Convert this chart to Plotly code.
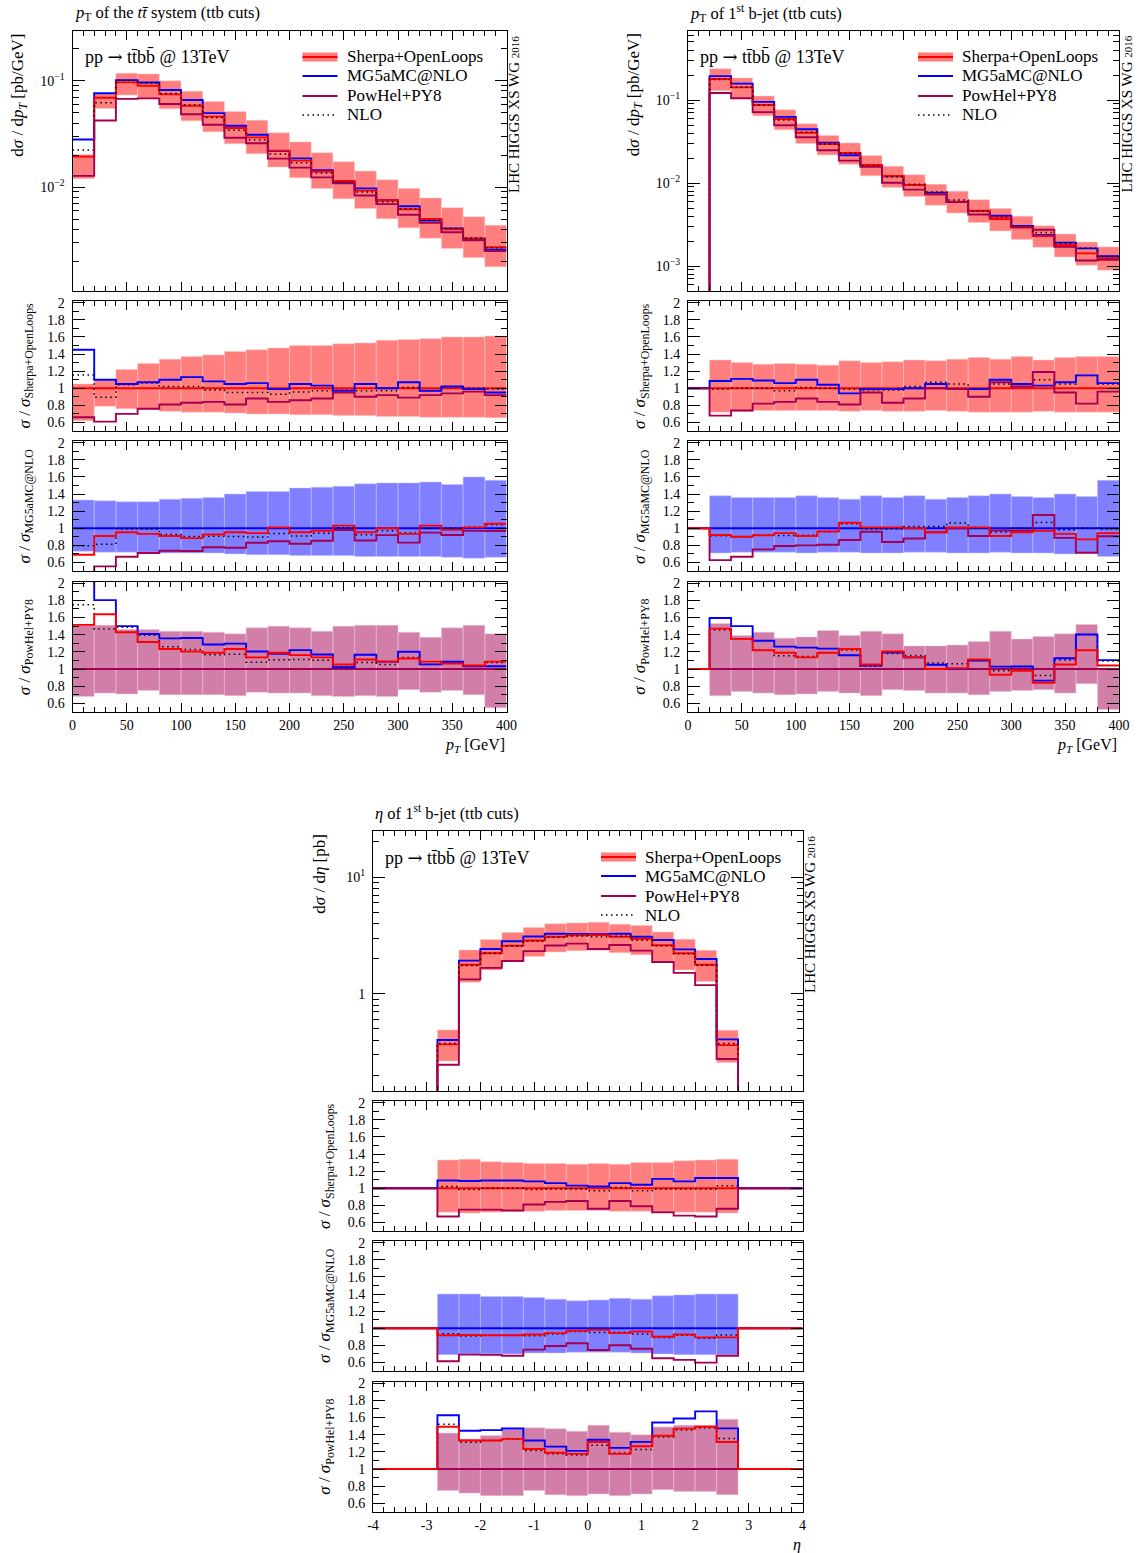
import plotly.graph_objects as go

W, H = 1141, 1553
FONT = "Liberation Serif"

C_SH = "#FF0000"
C_MG = "#0000FF"
C_PW = "#A30051"
B_SH = "rgba(255,0,0,0.5)"
B_MG = "rgba(0,0,255,0.5)"
B_PW = "rgba(163,0,81,0.5)"
DOT = "1.5px,3.5px"

# ---------------- data: pT of the ttbar system ----------------
tt_edges = [0, 20, 40, 60, 80, 100, 120, 140, 160, 180, 200, 220, 240, 260, 280, 300, 320, 340, 360, 380, 400]
tt_sherpa = [0.0193, 0.0692, 0.0964, 0.0897, 0.0744, 0.0582, 0.0459, 0.0359, 0.0293, 0.0220,
             0.0177, 0.0140, 0.01138, 0.00924, 0.0075, 0.00617, 0.0050, 0.0040, 0.00329, 0.00271]
tt_mg_over_sh = [1.45, 1.10, 1.05, 1.07, 1.10, 1.13, 1.08, 1.05, 1.06, 0.99,
                 1.05, 1.03, 0.97, 1.05, 1.00, 1.07, 0.97, 1.02, 0.99, 0.95]
tt_pw_over_sh = [0.66, 0.61, 0.70, 0.76, 0.81, 0.83, 0.84, 0.81, 0.88, 0.84,
                 0.86, 0.88, 0.95, 0.90, 0.92, 0.89, 0.92, 0.94, 0.96, 0.92]
tt_nlo_over_sh = [1.155, 0.895, 1.04, 1.06, 1.02, 1.02, 0.98, 0.95, 0.95, 0.93,
                  0.955, 0.97, 0.975, 0.97, 0.97, 1.01, 0.97, 1.02, 1.00, 0.99]
tt_sh_up = [1.05, 1.09, 1.22, 1.29, 1.34, 1.37, 1.39, 1.43, 1.45, 1.47,
            1.50, 1.50, 1.52, 1.53, 1.56, 1.57, 1.58, 1.60, 1.60, 1.61]
tt_sh_dn = [0.62, 0.79, 0.76, 0.75, 0.73, 0.72, 0.72, 0.71, 0.70, 0.70,
            0.69, 0.69, 0.68, 0.68, 0.67, 0.67, 0.66, 0.66, 0.66, 0.655]
tt_mg_up = [1.33, 1.32, 1.31, 1.31, 1.34, 1.35, 1.36, 1.40, 1.43, 1.43,
            1.47, 1.48, 1.49, 1.52, 1.53, 1.53, 1.54, 1.51, 1.60, 1.56]
tt_mg_dn = [0.73, 0.72, 0.72, 0.72, 0.71, 0.71, 0.71, 0.70, 0.69, 0.69,
            0.68, 0.68, 0.68, 0.67, 0.67, 0.67, 0.67, 0.66, 0.65, 0.66]
tt_pw_up = [1.51, 1.51, 1.46, 1.46, 1.44, 1.44, 1.43, 1.41, 1.48, 1.50,
            1.48, 1.44, 1.50, 1.51, 1.51, 1.43, 1.37, 1.48, 1.51, 1.41]
tt_pw_dn = [0.68, 0.72, 0.71, 0.75, 0.70, 0.70, 0.70, 0.69, 0.73, 0.72,
            0.72, 0.69, 0.68, 0.69, 0.68, 0.76, 0.73, 0.75, 0.70, 0.55]

# ---------------- data: pT of 1st b-jet ----------------
bj_edges = [0, 20, 40, 60, 80, 100, 120, 140, 160, 180, 200, 220, 240, 260, 280, 300, 320, 340, 360, 380, 400]
bj_sherpa = [0.0, 0.179, 0.142, 0.0871, 0.0591, 0.0404, 0.0295, 0.0230, 0.0165, 0.01214,
             0.00946, 0.0073, 0.00596, 0.00464, 0.00368, 0.0029, 0.0023, 0.00179, 0.00142, 0.00124]
bj_mg_over_sh = [None, 1.085, 1.11, 1.09, 1.06, 1.10, 1.04, 0.94, 0.99, 0.99,
                 1.00, 1.05, 0.99, 0.99, 1.10, 1.05, 1.03, 1.07, 1.15, 1.06]
bj_pw_over_sh = [None, 0.68, 0.74, 0.82, 0.84, 0.88, 0.84, 0.81, 0.95, 0.83,
                 0.88, 1.00, 0.99, 0.90, 1.07, 1.02, 1.19, 0.95, 0.82, 0.96]
bj_nlo_over_sh = [None, 0.99, 1.00, 1.00, 0.97, 1.01, 1.00, 0.99, 0.98, 0.98,
                  1.02, 1.07, 1.05, 0.99, 1.05, 1.05, 1.10, 1.05, 1.15, 1.05]
bj_sh_up = [None, 1.33, 1.30, 1.28, 1.29, 1.28, 1.27, 1.32, 1.30, 1.31,
            1.33, 1.32, 1.34, 1.36, 1.34, 1.37, 1.33, 1.36, 1.37, 1.37]
bj_sh_dn = [None, 0.72, 0.73, 0.74, 0.74, 0.74, 0.74, 0.73, 0.74, 0.73,
            0.73, 0.74, 0.73, 0.72, 0.72, 0.72, 0.73, 0.72, 0.72, 0.72]
bj_mg_up = [None, 1.38, 1.36, 1.36, 1.36, 1.38, 1.36, 1.34, 1.38, 1.36,
            1.38, 1.34, 1.36, 1.38, 1.40, 1.37, 1.36, 1.40, 1.37, 1.56]
bj_mg_dn = [None, 0.71, 0.72, 0.72, 0.72, 0.71, 0.72, 0.72, 0.71, 0.71,
            0.72, 0.72, 0.71, 0.71, 0.72, 0.71, 0.71, 0.70, 0.71, 0.67]
bj_pw_up = [None, 1.53, 1.39, 1.43, 1.36, 1.375, 1.45, 1.39, 1.44, 1.41,
            1.27, 1.27, 1.28, 1.32, 1.44, 1.35, 1.38, 1.41, 1.52, 1.00]
bj_pw_dn = [None, 0.69, 0.74, 0.72, 0.70, 0.71, 0.74, 0.72, 0.69, 0.76,
            0.75, 0.72, 0.72, 0.70, 0.74, 0.75, 0.76, 0.72, 0.83, 0.53]

# ---------------- data: eta of 1st b-jet ----------------
eta_edges = [-4.0, -3.6, -3.2, -2.8, -2.4, -2.0, -1.6, -1.2, -0.8, -0.4, 0.0,
             0.4, 0.8, 1.2, 1.6, 2.0, 2.4, 2.8, 3.2, 3.6, 4.0]
eta_sherpa = [0.0, 0.0, 0.0, 0.368, 1.77, 2.22, 2.58, 2.86, 3.08, 3.16,
              3.18, 3.08, 2.96, 2.60, 2.22, 1.77, 0.363, 0.0, 0.0, 0.0]
eta_mg_over_sh = [None, None, None, 1.09, 1.085, 1.09, 1.09, 1.08, 1.06, 1.03,
                  1.02, 1.06, 1.04, 1.11, 1.08, 1.12, 1.12, None, None, None]
eta_pw_over_sh = [None, None, None, 0.67, 0.75, 0.75, 0.74, 0.81, 0.84, 0.85,
                  0.76, 0.85, 0.79, 0.72, 0.68, 0.67, 0.76, None, None, None]
eta_nlo_over_sh = [None, None, None, 1.02, 0.985, 1.00, 1.00, 0.985, 0.99, 0.99,
                   0.97, 1.01, 0.97, 0.99, 0.99, 0.99, 1.03, None, None, None]
eta_sh_up = [None, None, None, 1.33, 1.34, 1.31, 1.30, 1.29, 1.29, 1.28,
             1.29, 1.28, 1.30, 1.30, 1.32, 1.33, 1.34, None, None, None]
eta_sh_dn = [None, None, None, 0.72, 0.71, 0.72, 0.73, 0.73, 0.74, 0.74,
             0.74, 0.73, 0.73, 0.73, 0.72, 0.72, 0.71, None, None, None]
eta_mg_up = [None, None, None, 1.40, 1.40, 1.37, 1.37, 1.36, 1.34, 1.32,
             1.33, 1.35, 1.34, 1.38, 1.39, 1.40, 1.40, None, None, None]
eta_mg_dn = [None, None, None, 0.69, 0.70, 0.70, 0.70, 0.71, 0.71, 0.72,
             0.72, 0.72, 0.71, 0.70, 0.69, 0.69, 0.69, None, None, None]
eta_pw_up = [None, None, None, 1.42, 1.35, 1.39, 1.46, 1.48, 1.47, 1.44,
             1.51, 1.43, 1.40, 1.49, 1.51, 1.51, 1.58, None, None, None]
eta_pw_dn = [None, None, None, 0.75, 0.72, 0.69, 0.69, 0.75, 0.70, 0.69,
             0.71, 0.69, 0.71, 0.76, 0.74, 0.74, 0.70, None, None, None]

# ---------------- helpers ----------------
def scaled(base, rel):
    return [b * r if (r is not None and b > 0) else 0.0 for b, r in zip(base, rel)]

def ratio(num, den):
    return [n / d if d > 0 else 1.0 for n, d in zip(num, den)]

def steps(edges, vals, floor=None):
    v = [(x if (floor is None or x > 0) else floor) for x in vals]
    return list(edges), v + [v[-1]]

def band_xy(edges, lo, hi):
    xs, ys = [], []
    for i in range(len(lo)):
        if lo[i] is None or hi[i] is None:
            continue
        a, b = edges[i], edges[i + 1]
        xs += [a, b, b, a, a, None]
        ys += [lo[i], lo[i], hi[i], hi[i], lo[i], None]
    return xs, ys

def rel_band(center, rel):
    return [c * r if (r is not None and c > 0) else None for c, r in zip(center, rel)]

def px(x):
    return x / W

def py(y):
    return 1 - y / H

fig = go.Figure()
layout = {}
annotations = []
shapes = []

def ann(text, x, y, xanchor, yanchor, size, angle=0):
    annotations.append(dict(text=text, x=px(x), y=py(y), xref="paper", yref="paper",
                            xanchor=xanchor, yanchor=yanchor, textangle=angle, showarrow=False,
                            font=dict(family=FONT, size=size, color="black")))

def dom_y(top, bot):
    return [py(bot), py(top)]

groups = [
    dict(edges=tt_edges, sh=tt_sherpa, mg_r=tt_mg_over_sh, pw_r=tt_pw_over_sh, nlo_r=tt_nlo_over_sh,
         sh_up=tt_sh_up, sh_dn=tt_sh_dn, mg_up=tt_mg_up, mg_dn=tt_mg_dn, pw_up=tt_pw_up, pw_dn=tt_pw_dn,
         xdom=(72.5, 506.5), ytop=0, logrange=[-2.975, -0.53],
         majors=[1e-2, 1e-1], majtext=["10<sup>\u22122</sup>", "10<sup>\u22121</sup>"],
         minors=[k * 10 ** d for d in (-3, -2, -1) for k in range(2, 10)],
         title="<i>p</i><sub>T</sub> of the <i>t</i><i>t\u0304</i> system (ttb cuts)",
         ytitle="d<i>\u03c3</i> / d<i>p<sub>T</sub></i> [pb/GeV]",
         xtitle="<i>p<sub>T</sub></i> [GeV]", kind="pt"),
    dict(edges=bj_edges, sh=bj_sherpa, mg_r=bj_mg_over_sh, pw_r=bj_pw_over_sh, nlo_r=bj_nlo_over_sh,
         sh_up=bj_sh_up, sh_dn=bj_sh_dn, mg_up=bj_mg_up, mg_dn=bj_mg_dn, pw_up=bj_pw_up, pw_dn=bj_pw_dn,
         xdom=(688, 1119), ytop=0, logrange=[-3.297, -0.165],
         majors=[1e-3, 1e-2, 1e-1], majtext=["10<sup>\u22123</sup>", "10<sup>\u22122</sup>", "10<sup>\u22121</sup>"],
         minors=[k * 10 ** d for d in (-4, -3, -2, -1) for k in range(2, 10)],
         title="<i>p</i><sub>T</sub> of 1<sup>st</sup> b-jet (ttb cuts)",
         ytitle="d<i>\u03c3</i> / d<i>p<sub>T</sub></i> [pb/GeV]",
         xtitle="<i>p<sub>T</sub></i> [GeV]", kind="pt"),
    dict(edges=eta_edges, sh=eta_sherpa, mg_r=eta_mg_over_sh, pw_r=eta_pw_over_sh, nlo_r=eta_nlo_over_sh,
         sh_up=eta_sh_up, sh_dn=eta_sh_dn, mg_up=eta_mg_up, mg_dn=eta_mg_dn, pw_up=eta_pw_up, pw_dn=eta_pw_dn,
         xdom=(373, 802.5), ytop=800, logrange=[-0.831, 1.397],
         majors=[1, 10], majtext=["1", "10<sup>1</sup>"],
         minors=[k * 10 ** d for d in (-1, 0, 1) for k in range(2, 10)],
         title="<i>\u03b7</i> of 1<sup>st</sup> b-jet (ttb cuts)",
         ytitle="d<i>\u03c3</i> / d<i>\u03b7</i> [pb]",
         xtitle="<i>\u03b7</i>", kind="eta"),
]

panel_rows = [(30.7, 290.7), (301, 431), (441, 571), (581.5, 712)]
ratio_titles = ["<i>\u03c3</i> / <i>\u03c3</i><sub>Sherpa+OpenLoops</sub>",
                "<i>\u03c3</i> / <i>\u03c3</i><sub>MG5aMC@NLO</sub>",
                "<i>\u03c3</i> / <i>\u03c3</i><sub>PowHel+PY8</sub>"]
LW = 1.9
tickfont = dict(family=FONT, size=14, color="black")

for g, G in enumerate(groups):
    e = G["edges"]
    sh = G["sh"]
    mg = scaled(sh, G["mg_r"])
    pw = scaled(sh, G["pw_r"])
    nlo = scaled(sh, G["nlo_r"])
    series = {"sh": (sh, C_SH, "solid"), "mg": (mg, C_MG, "solid"),
              "pw": (pw, C_PW, "solid"), "nlo": (nlo, "black", DOT)}
    bands = {"sh": (G["sh_dn"], G["sh_up"], B_SH), "mg": (G["mg_dn"], G["mg_up"], B_MG),
             "pw": (G["pw_dn"], G["pw_up"], B_PW)}
    x0, x1 = G["xdom"]
    off = G["ytop"]
    floor = 10 ** (G["logrange"][0] - 1)
    for p in range(4):
        n = g * 4 + p + 1
        xa = "x" if n == 1 else f"x{n}"
        ya = "y" if n == 1 else f"y{n}"
        top, bot = panel_rows[p]
        top += off
        bot += off
        if p == 0:
            lo = rel_band(sh, G["sh_dn"])
            hi = rel_band(sh, G["sh_up"])
            bx, by = band_xy(e, lo, hi)
            fig.add_trace(go.Scatter(x=bx, y=by, fill="toself", fillcolor=B_SH, mode="lines",
                                     line=dict(width=0.6, color="rgba(255,200,200,0.8)"),
                                     hoverinfo="skip", showlegend=False, xaxis=xa, yaxis=ya))
            for key in ["mg", "sh", "nlo", "pw"]:
                vals, col, dash = series[key]
                sx, sy = steps(e, vals, floor)
                fig.add_trace(go.Scatter(x=sx, y=sy, mode="lines", line_shape="hv",
                                         line=dict(color=col, width=1.5 if key == "nlo" else LW, dash=dash),
                                         showlegend=False, xaxis=xa, yaxis=ya))
        else:
            ref = ["sh", "mg", "pw"][p - 1]
            order = {"sh": ["sh", "nlo", "mg", "pw"], "mg": ["mg", "nlo", "pw", "sh"],
                     "pw": ["pw", "nlo", "mg", "sh"]}[ref]
            lo, hi, bc = bands[ref]
            bx, by = band_xy(e, lo, hi)
            edgecol = {"sh": "rgba(255,200,200,0.8)", "mg": "rgba(200,200,255,0.8)",
                       "pw": "rgba(235,200,220,0.8)"}[ref]
            fig.add_trace(go.Scatter(x=bx, y=by, fill="toself", fillcolor=bc, mode="lines",
                                     line=dict(width=0.6, color=edgecol),
                                     hoverinfo="skip", showlegend=False, xaxis=xa, yaxis=ya))
            refvals = series[ref][0]
            for key in order:
                vals, col, dash = series[key]
                r = ratio(vals, refvals)
                sx, sy = steps(e, r)
                fig.add_trace(go.Scatter(x=sx, y=sy, mode="lines", line_shape="hv",
                                         line=dict(color=col, width=1.5 if key == "nlo" else LW, dash=dash),
                                         showlegend=False, xaxis=xa, yaxis=ya))

        # axes
        xkey = "xaxis" if n == 1 else f"xaxis{n}"
        ykey = "yaxis" if n == 1 else f"yaxis{n}"
        xax = dict(domain=[px(x0), px(x1)], anchor=ya, showline=True, linecolor="black", linewidth=1,
                   mirror="allticks", ticks="inside", ticklen=9, tickcolor="black", showgrid=False,
                   zeroline=False, tickfont=tickfont, showticklabels=(p == 3))
        if G["kind"] == "pt":
            xax.update(range=[0, 400], tickmode="linear", tick0=0, dtick=50,
                       minor=dict(ticks="inside", ticklen=5, tick0=0, dtick=10, tickcolor="black", showgrid=False))
        else:
            xax.update(range=[-4, 4], tickmode="array", tickvals=[-4, -3, -2, -1, 0, 1, 2, 3, 4],
                       ticktext=["-4", "-3", "-2", "-1", "0", "1", "2", "3", "4"],
                       minor=dict(ticks="inside", ticklen=5, tick0=-4, dtick=0.2, tickcolor="black", showgrid=False))
        layout[xkey] = xax
        yax = dict(domain=dom_y(top, bot), anchor=xa, showline=True, linecolor="black", linewidth=1,
                   mirror="allticks", ticks="inside", tickcolor="black", showgrid=False, zeroline=False,
                   tickfont=tickfont, ticklabelstandoff=4)
        if p == 0:
            yax.update(type="log", range=G["logrange"], tickmode="array", tickvals=G["majors"],
                       ticktext=G["majtext"], ticklen=12,
                       minor=dict(ticks="inside", ticklen=6, tickvals=G["minors"], tickcolor="black", showgrid=False))
        else:
            yax.update(range=[0.5, 2.02], tickmode="array",
                       tickvals=[0.6, 0.8, 1.0, 1.2, 1.4, 1.6, 1.8, 2.0],
                       ticktext=["0.6", "0.8", "1", "1.2", "1.4", "1.6", "1.8", "2"], ticklen=12,
                       minor=dict(ticks="inside", ticklen=6, tick0=0.5, dtick=0.1, tickcolor="black", showgrid=False))
        layout[ykey] = yax

        # y titles
        if p == 0:
            ann(G["ytitle"], x0 - 53, top + 1, "center", "top", 17, -90)
        else:
            ann(ratio_titles[p - 1], x0 - 47, (top + bot) / 2, "center", "middle", 17, -90)

    ann(G["title"], x0, off + 13, "left", "middle", 16.5)
    ann(G["xtitle"], x1, off + 745, "right", "middle", 16)
    ann("LHC HIGGS XS WG <span style='font-size:11px'>2016</span>", x1 + 7, off + 34, "center", "top", 15, -90)
    ann("pp <span style='font-family:DejaVu Serif'>\u2192</span> tt\u0304bb\u0304 @ 13TeV",
        x0 + 10, off + 57, "left", "middle", 18)

    # legend
    lx0 = x0 + 230 if g < 2 else x0 + 228
    lx1 = lx0 + 35
    tx = lx1 + 7
    ly = [off + 57, off + 76, off + 96, off + 115]
    shapes.append(dict(type="rect", xref="paper", yref="paper", x0=px(lx0), x1=px(lx1),
                       y0=py(ly[0] - 4.5), y1=py(ly[0] + 4.5), fillcolor=B_SH, line=dict(width=0)))
    for yy, col, dash in zip(ly, [C_SH, C_MG, C_PW, "black"], ["solid", "solid", "solid", DOT]):
        shapes.append(dict(type="line", xref="paper", yref="paper", x0=px(lx0), x1=px(lx1),
                           y0=py(yy), y1=py(yy), line=dict(color=col, width=1.5 if dash == DOT else LW, dash=dash)))
    for yy, txt in zip(ly, ["Sherpa+OpenLoops", "MG5aMC@NLO", "PowHel+PY8", "NLO"]):
        ann(txt, tx, yy, "left", "middle", 17)

fig.update_layout(**layout)
fig.update_layout(width=W, height=H, margin=dict(l=0, r=0, t=0, b=0, autoexpand=False), plot_bgcolor="white",
                  paper_bgcolor="white", showlegend=False, annotations=annotations, shapes=shapes,
                  font=dict(family=FONT, color="black"))
fig.write_html("out.html", config={"displayModeBar": False},
               post_script="document.body.style.margin='0';document.body.style.overflow='hidden';")
